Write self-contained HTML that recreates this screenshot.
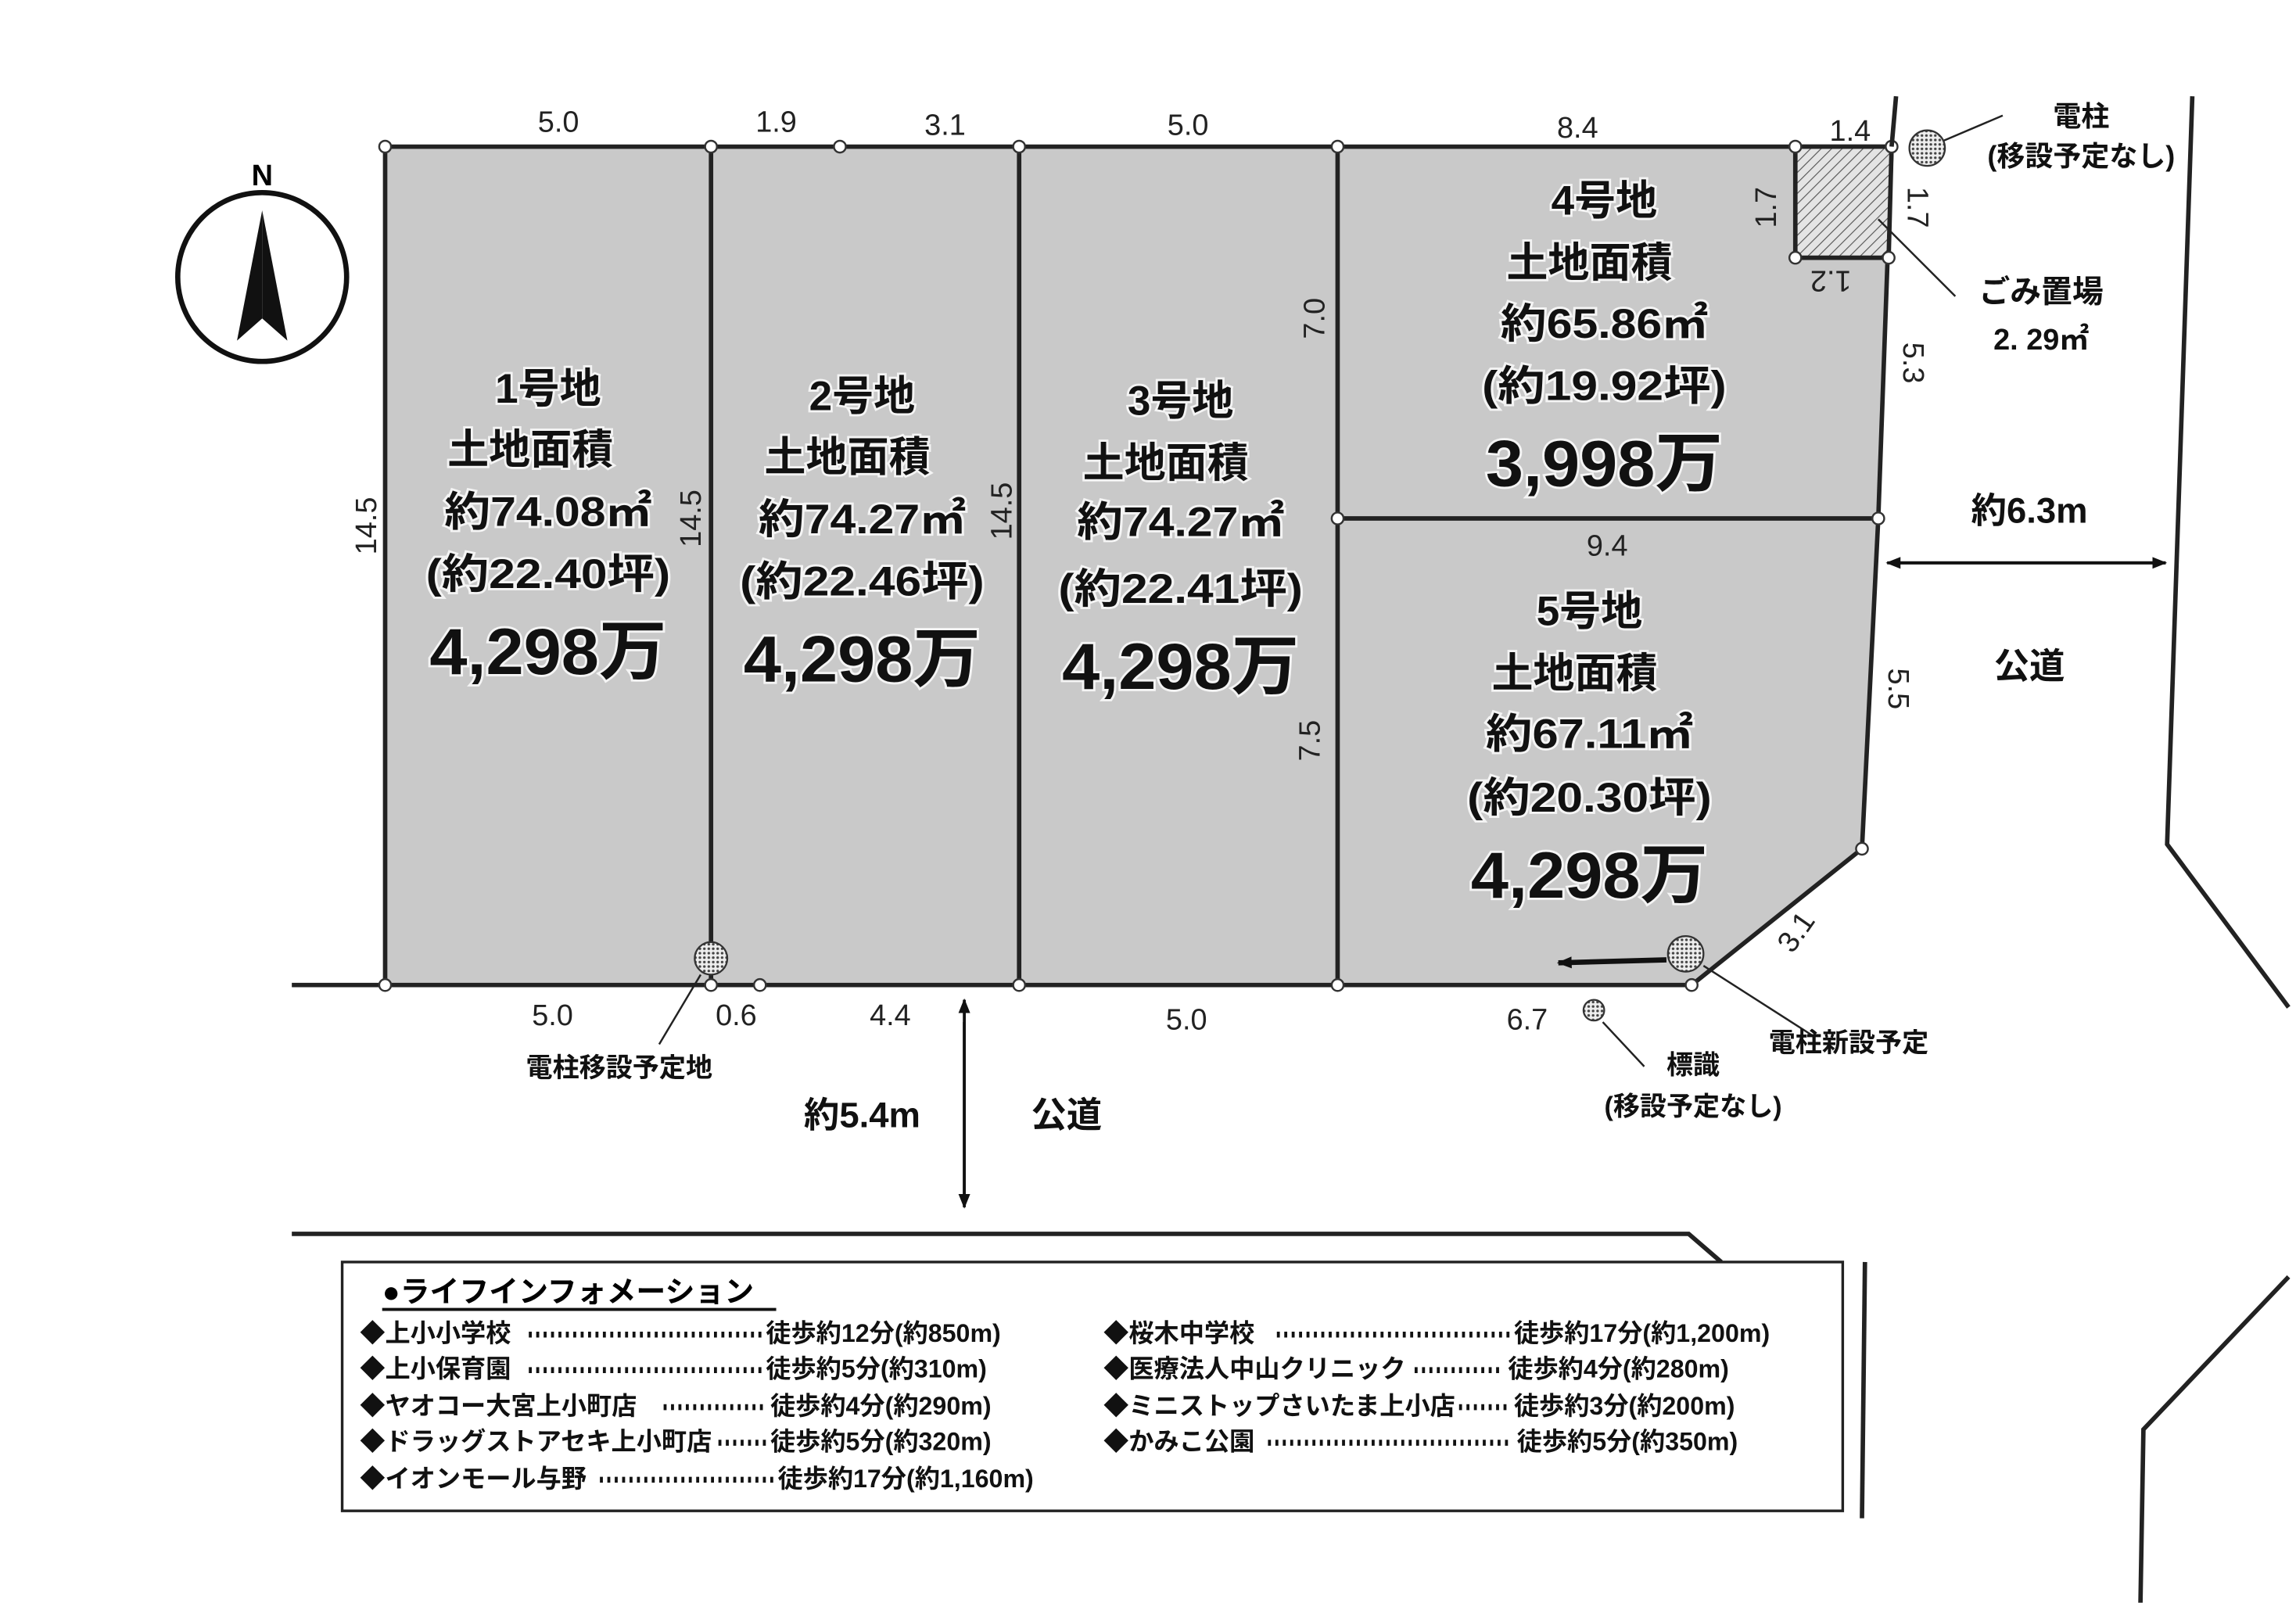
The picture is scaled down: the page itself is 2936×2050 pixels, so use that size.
<!DOCTYPE html>
<html><head><meta charset="utf-8"><style>
html,body{margin:0;padding:0;background:#fff;}
svg{display:block;}
text{font-family:"Liberation Sans","Noto Sans CJK JP",sans-serif;}
.b{font-weight:bold;}
.d{font-size:20px;fill:#222;}
.lt{font-weight:bold;fill:#111;stroke:#f4f4f4;stroke-width:3px;paint-order:stroke;}
.i{font-size:17px;font-weight:bold;fill:#111;}
</style></head><body>
<svg width="2936" height="2050" viewBox="0 0 1550 1082.2" preserveAspectRatio="none">
<defs>
<pattern id="h" width="5" height="5" patternUnits="userSpaceOnUse" patternTransform="rotate(45)">
<rect width="5" height="5" fill="#e4e4e4"/><line x1="0" y1="0" x2="0" y2="5" stroke="#555" stroke-width="1.2"/></pattern>
<pattern id="dt" width="3" height="3" patternUnits="userSpaceOnUse"><rect width="3" height="3" fill="#eee"/><circle cx="1.5" cy="1.5" r="0.9" fill="#444"/></pattern>
<marker id="a" markerWidth="10" markerHeight="10" refX="9" refY="5" orient="auto" markerUnits="userSpaceOnUse"><path d="M0,1 L10,5 L0,9 Z" fill="#111"/></marker>
</defs>
<!-- lots -->
<path d="M260,99 L1277,99 L1268,350 L1257,573 L1142,665 L260,665 Z" fill="#c9c9c9" stroke="#222" stroke-width="3"/>
<line x1="197" y1="665" x2="260" y2="665" stroke="#222" stroke-width="3"/>
<g stroke="#222" stroke-width="3">
<line x1="480" y1="99" x2="480" y2="665"/>
<line x1="688" y1="99" x2="688" y2="665"/>
<line x1="903" y1="99" x2="903" y2="665"/>
<line x1="903" y1="350" x2="1268" y2="350"/>
</g>
<path d="M1212,99 L1277,99 L1275,174 L1212,174 Z" fill="url(#h)" stroke="#222" stroke-width="3"/>
<g fill="#fff" stroke="#333" stroke-width="1.3">
<circle cx="260" cy="99" r="4"/><circle cx="480" cy="99" r="4"/><circle cx="567" cy="99" r="4"/><circle cx="688" cy="99" r="4"/><circle cx="903" cy="99" r="4"/><circle cx="1212" cy="99" r="4"/><circle cx="1277" cy="99" r="4"/><circle cx="1212" cy="174" r="4"/><circle cx="1275" cy="174" r="4"/><circle cx="903" cy="350" r="4"/><circle cx="1268" cy="350" r="4"/><circle cx="1257" cy="573" r="4"/><circle cx="1142" cy="665" r="4"/><circle cx="903" cy="665" r="4"/><circle cx="688" cy="665" r="4"/><circle cx="513" cy="665" r="4"/><circle cx="480" cy="665" r="4"/><circle cx="260" cy="665" r="4"/>
</g>
<!-- roads -->
<g stroke="#222" stroke-width="3" fill="none">
<line x1="1280" y1="65" x2="1277" y2="99"/>
<polyline points="1480,65 1463,570 1545,680"/>
<polyline points="197,833 1140,833 1162,852"/>
<line x1="1259" y1="852" x2="1257" y2="1025"/>
<polyline points="1545,862 1447,965 1445,1082"/>
</g>
<!-- compass -->
<circle cx="177" cy="187" r="57" fill="none" stroke="#111" stroke-width="3.5"/>
<path d="M177,142 L160,230 L177,215 Z" fill="#111"/><path d="M177,142 L194,230 L177,215 Z" fill="#111"/>
<text x="177" y="125" text-anchor="middle" class="b" font-size="20">N</text>
<!-- dims -->
<g class="d" text-anchor="middle">
<text x="377" y="89">5.0</text><text x="524" y="89">1.9</text><text x="638" y="91">3.1</text><text x="802" y="91">5.0</text><text x="1065" y="93">8.4</text><text x="1249" y="95">1.4</text>
<text x="373" y="692">5.0</text><text x="497" y="692">0.6</text><text x="601" y="692">4.4</text><text x="801" y="695">5.0</text><text x="1031" y="695">6.7</text>
<text x="1085" y="375">9.4</text>
<text transform="translate(254,355) rotate(-90)">14.5</text>
<text transform="translate(473,350) rotate(-90)">14.5</text>
<text transform="translate(683,345) rotate(-90)">14.5</text>
<text transform="translate(894,215) rotate(-90)">7.0</text>
<text transform="translate(891,500) rotate(-90)">7.5</text>
<text transform="translate(1199,140) rotate(-90)">1.7</text>
<text transform="translate(1288,140) rotate(90)">1.7</text>
<text transform="translate(1236,183) rotate(180)">1.2</text>
<text transform="translate(1285,245) rotate(90)">5.3</text>
<text transform="translate(1275,465) rotate(90)">5.5</text>
<text transform="translate(1218,633) rotate(-55)">3.1</text>
</g>
<!-- lot labels -->
<g text-anchor="middle" class="lt">
<text x="370" y="272" font-size="28">1号地</text><text x="358" y="313" font-size="28">土地面積</text><text x="370" y="355" font-size="28" textLength="140" lengthAdjust="spacingAndGlyphs">約74.08㎡</text><text x="370" y="397" font-size="28" textLength="165" lengthAdjust="spacingAndGlyphs">(約22.40坪)</text><text x="370" y="455" font-size="44" textLength="160" lengthAdjust="spacingAndGlyphs">4,298万</text>
<text x="582" y="277" font-size="28">2号地</text><text x="572" y="318" font-size="28">土地面積</text><text x="582" y="360" font-size="28" textLength="140" lengthAdjust="spacingAndGlyphs">約74.27㎡</text><text x="582" y="402" font-size="28" textLength="165" lengthAdjust="spacingAndGlyphs">(約22.46坪)</text><text x="582" y="460" font-size="44" textLength="160" lengthAdjust="spacingAndGlyphs">4,298万</text>
<text x="797" y="280" font-size="28">3号地</text><text x="787" y="322" font-size="28">土地面積</text><text x="797" y="362" font-size="28" textLength="140" lengthAdjust="spacingAndGlyphs">約74.27㎡</text><text x="797" y="407" font-size="28" textLength="165" lengthAdjust="spacingAndGlyphs">(約22.41坪)</text><text x="797" y="465" font-size="44" textLength="160" lengthAdjust="spacingAndGlyphs">4,298万</text>
<text x="1083" y="145" font-size="28">4号地</text><text x="1073" y="187" font-size="28">土地面積</text><text x="1083" y="228" font-size="28" textLength="140" lengthAdjust="spacingAndGlyphs">約65.86㎡</text><text x="1083" y="270" font-size="28" textLength="165" lengthAdjust="spacingAndGlyphs">(約19.92坪)</text><text x="1083" y="328" font-size="44" textLength="160" lengthAdjust="spacingAndGlyphs">3,998万</text>
<text x="1073" y="422" font-size="28">5号地</text><text x="1063" y="464" font-size="28">土地面積</text><text x="1073" y="505" font-size="28" textLength="140" lengthAdjust="spacingAndGlyphs">約67.11㎡</text><text x="1073" y="548" font-size="28" textLength="165" lengthAdjust="spacingAndGlyphs">(約20.30坪)</text><text x="1073" y="606" font-size="44" textLength="160" lengthAdjust="spacingAndGlyphs">4,298万</text>
</g>
<!-- poles & leaders -->
<g stroke="#222" stroke-width="1.3" fill="none">
<line x1="473" y1="658" x2="445" y2="705"/>
<line x1="1150" y1="652" x2="1225" y2="700"/>
<line x1="1312" y1="95" x2="1352" y2="78"/>
<line x1="1268" y1="148" x2="1320" y2="200"/>
<line x1="1082" y1="690" x2="1110" y2="720"/>
</g>
<g stroke="#333" stroke-width="1.2" fill="url(#dt)">
<circle cx="480" cy="647" r="11"/><circle cx="1138" cy="644" r="12"/><circle cx="1301" cy="100" r="12"/><circle cx="1076" cy="682" r="7"/>
</g>
<line x1="1125" y1="648" x2="1052" y2="650" stroke="#111" stroke-width="3.5" marker-end="url(#a)"/>
<line x1="1282" y1="380" x2="1462" y2="380" stroke="#111" stroke-width="2" marker-end="url(#a)"/>
<line x1="1462" y1="380" x2="1274" y2="380" stroke="#111" stroke-width="2" marker-end="url(#a)"/>
<line x1="651" y1="690" x2="651" y2="815" stroke="#111" stroke-width="2" marker-end="url(#a)"/>
<line x1="651" y1="810" x2="651" y2="675" stroke="#111" stroke-width="2" marker-end="url(#a)"/>
<g text-anchor="middle" class="b" fill="#111">
<text x="1405" y="85" font-size="19">電柱</text><text x="1405" y="112" font-size="19">(移設予定なし)</text>
<text x="1378" y="204" font-size="21">ごみ置場</text><text x="1378" y="236" font-size="20">2. 29㎡</text>
<text x="1370" y="353" font-size="24">約6.3m</text><text x="1370" y="458" font-size="24">公道</text>
<text x="582" y="761" font-size="24">約5.4m</text><text x="720" y="761" font-size="24">公道</text>
<text x="418" y="727" font-size="18">電柱移設予定地</text>
<text x="1248" y="710" font-size="18">電柱新設予定</text>
<text x="1143" y="725" font-size="18">標識</text><text x="1143" y="753" font-size="18">(移設予定なし)</text>
</g>
<!-- info box -->
<rect x="231" y="852" width="1013" height="168" fill="#fff" stroke="#222" stroke-width="1.8"/>
<text x="258" y="879" class="b" font-size="20">●ライフインフォメーション</text>
<line x1="258" y1="884" x2="524" y2="884" stroke="#111" stroke-width="2"/>
<g class="i">
<text x="243" y="906">◆上小小学校</text><text x="517" y="906">徒歩約12分(約850m)</text>
<text x="243" y="930">◆上小保育園</text><text x="517" y="930">徒歩約5分(約310m)</text>
<text x="243" y="955">◆ヤオコー大宮上小町店</text><text x="520" y="955">徒歩約4分(約290m)</text>
<text x="243" y="979">◆ドラッグストアセキ上小町店</text><text x="520" y="979">徒歩約5分(約320m)</text>
<text x="243" y="1004">◆イオンモール与野</text><text x="525" y="1004">徒歩約17分(約1,160m)</text>
<text x="745" y="906">◆桜木中学校</text><text x="1022" y="906">徒歩約17分(約1,200m)</text>
<text x="745" y="930">◆医療法人中山クリニック</text><text x="1018" y="930">徒歩約4分(約280m)</text>
<text x="745" y="955">◆ミニストップさいたま上小店</text><text x="1022" y="955">徒歩約3分(約200m)</text>
<text x="745" y="979">◆かみこ公園</text><text x="1024" y="979">徒歩約5分(約350m)</text>
</g>
<g stroke="#111" stroke-width="4" stroke-dasharray="2,3">
<line x1="357" y1="901" x2="514" y2="901"/><line x1="357" y1="925" x2="514" y2="925"/>
<line x1="448" y1="950" x2="517" y2="950"/><line x1="485" y1="974" x2="517" y2="974"/>
<line x1="405" y1="999" x2="522" y2="999"/>
<line x1="862" y1="901" x2="1019" y2="901"/><line x1="955" y1="925" x2="1015" y2="925"/>
<line x1="985" y1="950" x2="1019" y2="950"/><line x1="856" y1="974" x2="1021" y2="974"/>
</g>
</svg>
</body></html>
